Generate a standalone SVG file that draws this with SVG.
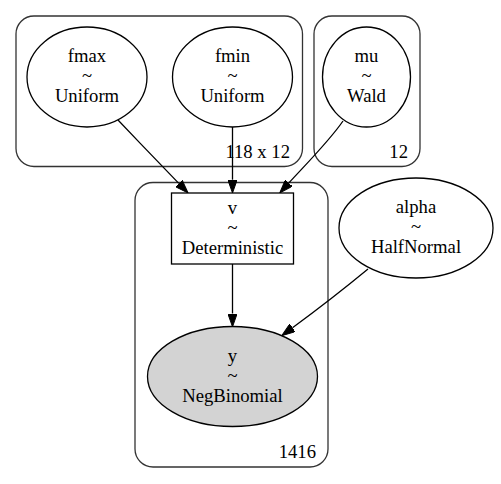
<svg xmlns="http://www.w3.org/2000/svg" width="501" height="484" viewBox="0 0 501 484">
<defs>
<style>
.cluster{fill:none;stroke:#333;stroke-width:1.3}
.node{fill:#fff;stroke:#000;stroke-width:1.3}
.obs{fill:#d3d3d3;stroke:#000;stroke-width:1.3}
.t{font-family:'Liberation Serif','Times New Roman',Tinos,'DejaVu Serif',serif;font-size:18.67px;fill:#000}
.c{text-anchor:middle}
.e{text-anchor:end}
.edge{fill:none;stroke:#000;stroke-width:1.3}
</style>
<marker id="arr" viewBox="0 0 13.3 9.4" refX="0" refY="4.7" markerWidth="13.3" markerHeight="9.4" markerUnits="userSpaceOnUse" orient="auto">
<path d="M0,0 L13.3,4.7 L0,9.4 z" fill="#000" stroke="#000" stroke-width="1"/>
</marker>
</defs>
<rect width="501" height="484" fill="#fff"/>
<g id="clusters" class="t" font-family="Liberation Serif, Times New Roman, serif">
<g id="cluster_118x12">
<rect class="cluster" x="16" y="16" width="286.5" height="150.5" rx="18" ry="18"/>
<text class="t e" x="290" y="157.5">118 x 12</text>
</g>
<g id="cluster_12">
<rect class="cluster" x="314" y="16" width="106" height="150.5" rx="18" ry="18"/>
<text class="t e" x="408" y="157.5">12</text>
</g>
<g id="cluster_1416">
<rect class="cluster" x="135" y="182.5" width="193" height="284.5" rx="18" ry="18"/>
<text class="t e" x="316" y="457.5">1416</text>
</g>
</g>
<g id="fmax">
<ellipse class="node" cx="87" cy="77" rx="60" ry="50"/>
<text class="t c" x="87" y="62">fmax</text>
<text class="t c" x="87" y="82">~</text>
<text class="t c" x="87" y="102">Uniform</text>
</g>
<g id="fmin">
<ellipse class="node" cx="232.5" cy="77" rx="60" ry="50"/>
<text class="t c" x="232.5" y="62">fmin</text>
<text class="t c" x="232.5" y="82">~</text>
<text class="t c" x="232.5" y="102">Uniform</text>
</g>
<g id="mu">
<ellipse class="node" cx="366.5" cy="77" rx="44" ry="50"/>
<text class="t c" x="366.5" y="62">mu</text>
<text class="t c" x="366.5" y="82">~</text>
<text class="t c" x="366.5" y="102">Wald</text>
</g>
<g id="v">
<rect class="node" x="171.5" y="193" width="122" height="71"/>
<text class="t c" x="232.5" y="213.5">v</text>
<text class="t c" x="232.5" y="233.5">~</text>
<text class="t c" x="232.5" y="253.5">Deterministic</text>
</g>
<g id="alpha">
<ellipse class="node" cx="416" cy="228" rx="77" ry="50"/>
<text class="t c" x="416" y="213">alpha</text>
<text class="t c" x="416" y="233">~</text>
<text class="t c" x="416" y="253">HalfNormal</text>
</g>
<g id="y">
<ellipse class="obs" cx="232.5" cy="376.5" rx="85" ry="50"/>
<text class="t c" x="232.5" y="361.5">y</text>
<text class="t c" x="232.5" y="381.5">~</text>
<text class="t c" x="232.5" y="401.5">NegBinomial</text>
</g>
<g id="edges">
<path class="edge" d="M118,120 C138,141 160,164 178.8,183.4" marker-end="url(#arr)"/>
<path class="edge" d="M232.5,127 L232.5,179.7" marker-end="url(#arr)"/>
<path class="edge" d="M343,121 C330,140 310,160 288.8,183" marker-end="url(#arr)"/>
<path class="edge" d="M232.5,264 L232.5,313.5" marker-end="url(#arr)"/>
<path class="edge" d="M368,269 C345,288 318,309 292.5,327.8" marker-end="url(#arr)"/>
</g>
</svg>
